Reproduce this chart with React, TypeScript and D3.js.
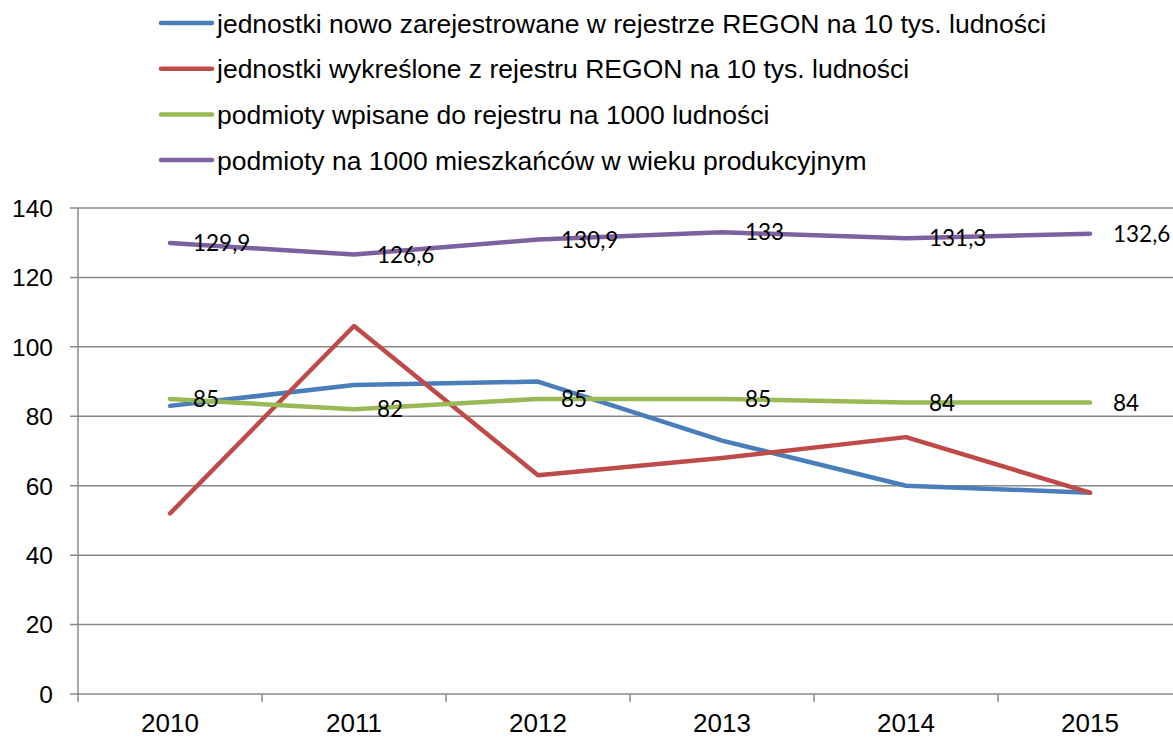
import React, { useEffect, useRef } from "react";
import * as d3 from "d3";

const years = ["2010", "2011", "2012", "2013", "2014", "2015"];
const seriesNames = [
  "jednostki nowo zarejestrowane w rejestrze REGON na 10 tys. ludności",
  "jednostki wykreślone z rejestru REGON na 10 tys. ludności",
  "podmioty wpisane do rejestru na 1000 ludności",
  "podmioty na 1000 mieszkańców w wieku produkcyjnym",
];
const noweValues = [83, 89, 90, 73, 60, 58];
const wykresloneValues = [52, 106, 63, 68, 74, 58];
const wpisaneValues = [85, 82, 85, 85, 84, 84];
const produkcyjnyValues = [129.9, 126.6, 130.9, 133, 131.3, 132.6];
const yTicks = [0, 20, 40, 60, 80, 100, 120, 140];
const colors = ["#4a7ebb", "#be4b48", "#98b954", "#7d60a0"];
const showLabels = [false, false, true, true];

const App = () => {
  const svgRef = useRef<SVGSVGElement>(null);

  useEffect(() => {
    document.body.style.margin = "0";
    const svg = d3.select(svgRef.current);
    svg.selectAll("*").remove();

    // plot area
    const margin = { top: 208, left: 78 };
    const plotW = 184 * 6;
    const plotH = 486;

    const x = d3.scaleBand().domain(years).range([margin.left, margin.left + plotW]);
    const y = d3.scaleLinear().domain([0, 140]).range([margin.top + plotH, margin.top]);

    // gridlines
    svg
      .append("g")
      .selectAll("line")
      .data(yTicks)
      .join("line")
      .attr("x1", margin.left - 8)
      .attr("x2", 1173)
      .attr("y1", (d) => y(d))
      .attr("y2", (d) => y(d))
      .attr("stroke", "#888")
      .attr("stroke-width", 1.5);

    // y axis line
    svg
      .append("line")
      .attr("x1", margin.left)
      .attr("x2", margin.left)
      .attr("y1", y(140))
      .attr("y2", y(0) + 8)
      .attr("stroke", "#888")
      .attr("stroke-width", 1.5);

    // x ticks at band boundaries
    svg
      .append("g")
      .selectAll("line")
      .data(d3.range(1, 7))
      .join("line")
      .attr("x1", (i) => margin.left + i * x.bandwidth())
      .attr("x2", (i) => margin.left + i * x.bandwidth())
      .attr("y1", y(0))
      .attr("y2", y(0) + 8)
      .attr("stroke", "#888")
      .attr("stroke-width", 1.5);

    // y labels
    svg
      .append("g")
      .selectAll("text")
      .data(yTicks)
      .join("text")
      .attr("x", 53)
      .attr("y", (d) => y(d))
      .attr("dy", "0.36em")
      .attr("text-anchor", "end")
      .attr("font-family", "Liberation Sans, Arial, sans-serif")
      .attr("font-size", 24.5)
      .attr("fill", "#000")
      .text((d) => d);

    // x labels
    svg
      .append("g")
      .selectAll("text")
      .data(years)
      .join("text")
      .attr("x", (d) => x(d)! + x.bandwidth() / 2)
      .attr("y", y(0) + 38)
      .attr("text-anchor", "middle")
      .attr("font-family", "Liberation Sans, Arial, sans-serif")
      .attr("font-size", 26)
      .attr("fill", "#000")
      .text((d) => d);

    const allSeries = [noweValues, wykresloneValues, wpisaneValues, produkcyjnyValues];

    const line = d3
      .line<number>()
      .x((d, i) => x(years[i])! + x.bandwidth() / 2)
      .y((d) => y(d));

    allSeries.forEach((vals, s) => {
      svg
        .append("path")
        .datum(vals)
        .attr("fill", "none")
        .attr("stroke", colors[s])
        .attr("stroke-width", 4.5)
        .attr("stroke-linejoin", "round")
        .attr("stroke-linecap", "round")
        .attr("d", line);
    });

    // data labels
    allSeries.forEach((vals, s) => {
      if (!showLabels[s]) return;
      svg
        .append("g")
        .selectAll("text")
        .data(vals)
        .join("text")
        .attr("x", (d, i) => x(years[i])! + x.bandwidth() / 2 + 23)
        .attr("y", (d) => y(d))
        .attr("dy", "0.36em")
        .attr("font-family", "Lato, Carlito, Calibri, sans-serif")
        .attr("font-size", 22.5)
        .attr("fill", "#000")
        .text((d) => String(d).replace(".", ","));
    });

    // legend
    const legend = svg
      .append("g")
      .selectAll("g")
      .data(seriesNames)
      .join("g")
      .attr("transform", (d, i) => `translate(0, ${23 + i * 45.7})`);
    legend
      .append("line")
      .attr("x1", 161)
      .attr("x2", 212)
      .attr("stroke", (d, i) => colors[i])
      .attr("stroke-width", 4.5)
      .attr("stroke-linecap", "round");
    legend
      .append("text")
      .attr("x", 217)
      .attr("dy", "0.36em")
      .attr("font-family", "Liberation Sans, Arial, sans-serif")
      .attr("font-size", 26.5)
      .attr("fill", "#000")
      .text((d) => d);
  }, []);

  return (
    <div style={{ position: "absolute", left: 0, top: 0 }}>
      <svg ref={svgRef} width={1173} height={738} style={{ display: "block", background: "#fff" }}></svg>
    </div>
  );
};

export default App;
